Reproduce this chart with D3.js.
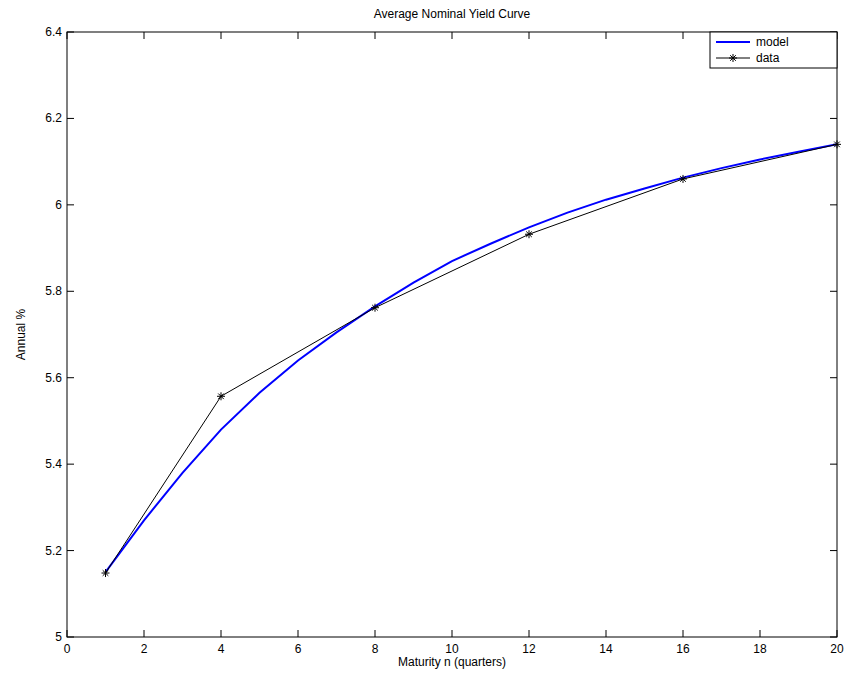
<!DOCTYPE html>
<html><head><meta charset="utf-8">
<script src="https://cdn.jsdelivr.net/npm/d3@7"></script>
<style>body{margin:0;background:#fff}text{font-family:"Liberation Sans",Arial,sans-serif}</style>
</head><body><svg id="c" width="852" height="694"></svg>
<script>
const modelN = d3.range(1, 21);
const modelY = [5.15,5.27,5.38,5.48,5.565,5.64,5.705,5.765,5.82,5.87,5.91,5.948,5.982,6.012,6.038,6.063,6.085,6.105,6.123,6.14];
const dataN = [1,4,8,12,16,20];
const dataY = [5.148,5.557,5.762,5.932,6.06,6.14];
const xTicks = d3.range(0, 21, 2);
const yTicks = [5,5.2,5.4,5.6,5.8,6,6.2,6.4];

const svg = d3.select("#c");
const L = 67, R = 837, T = 32, B = 637;
const x = d3.scaleLinear().domain([0,20]).range([L,R]);
const y = d3.scaleLinear().domain([5,6.4]).range([B,T]);

svg.append("rect").attr("x",L).attr("y",T).attr("width",R-L).attr("height",B-T)
  .attr("fill","#fff").attr("stroke","#000");

// ticks on all four sides, pointing inward
const g = svg.append("g").attr("font-size",12);
xTicks.forEach(t => {
  g.append("line").attr("x1",x(t)).attr("x2",x(t)).attr("y1",B).attr("y2",B-7).attr("stroke","#000");
  g.append("line").attr("x1",x(t)).attr("x2",x(t)).attr("y1",T).attr("y2",T+7).attr("stroke","#000");
  g.append("text").attr("x",x(t)).attr("y",B+16).attr("text-anchor","middle").text(t);
});
yTicks.forEach(t => {
  g.append("line").attr("x1",L).attr("x2",L+7).attr("y1",y(t)).attr("y2",y(t)).attr("stroke","#000");
  g.append("line").attr("x1",R).attr("x2",R-7).attr("y1",y(t)).attr("y2",y(t)).attr("stroke","#000");
  g.append("text").attr("x",L-5).attr("y",y(t)+4).attr("text-anchor","end").text(d3.format("~g")(t));
});

const line = d3.line().x(d=>x(d[0])).y(d=>y(d[1]));
svg.append("path").datum(modelN.map((n,i)=>[n,modelY[i]])).attr("d",line)
  .attr("fill","none").attr("stroke","#0000ff").attr("stroke-width",2);
svg.append("path").datum(dataN.map((n,i)=>[n,dataY[i]])).attr("d",line)
  .attr("fill","none").attr("stroke","#000").attr("stroke-width",1);

function star(gr, cx, cy){
  const r = 4;
  gr.append("path").attr("d",
    `M${cx-r},${cy}L${cx+r},${cy}M${cx},${cy-r}L${cx},${cy+r}M${cx-r*0.7},${cy-r*0.7}L${cx+r*0.7},${cy+r*0.7}M${cx-r*0.7},${cy+r*0.7}L${cx+r*0.7},${cy-r*0.7}`)
    .attr("stroke","#000").attr("fill","none");
}
dataN.forEach((n,i)=>star(svg, x(n), y(dataY[i])));

// legend
const lg = svg.append("g").attr("font-size",12);
lg.append("rect").attr("x",710).attr("y",32).attr("width",127).attr("height",36).attr("fill","#fff").attr("stroke","#000");
lg.append("line").attr("x1",716).attr("x2",750).attr("y1",42).attr("y2",42).attr("stroke","#0000ff").attr("stroke-width",2);
lg.append("text").attr("x",756).attr("y",46).text("model");
lg.append("line").attr("x1",716).attr("x2",750).attr("y1",58).attr("y2",58).attr("stroke","#000");
star(lg, 733, 58);
lg.append("text").attr("x",756).attr("y",62).text("data");

svg.append("text").attr("x",(L+R)/2).attr("y",18).attr("text-anchor","middle").attr("font-size",12).text("Average Nominal Yield Curve");
svg.append("text").attr("x",(L+R)/2).attr("y",666).attr("text-anchor","middle").attr("font-size",12).text("Maturity n (quarters)");
svg.append("text").attr("transform",`translate(25,${(T+B)/2}) rotate(-90)`).attr("text-anchor","middle").attr("font-size",12).text("Annual %");
</script></body></html>
